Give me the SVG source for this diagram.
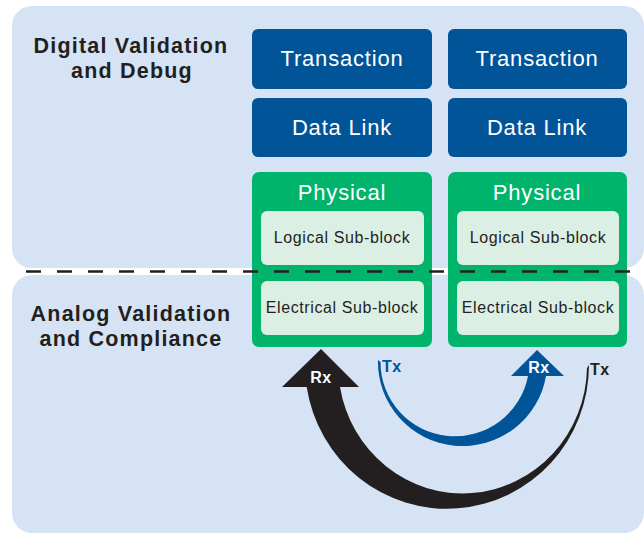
<svg xmlns="http://www.w3.org/2000/svg" width="644" height="533" viewBox="0 0 644 533">
<style>
.panel{fill:#d6e3f4}
.blue{fill:#025498}
.green{fill:#00b46c}
.sub{fill:#dcefe5}
.wt{font-family:"Liberation Sans",Arial,sans-serif;fill:#ffffff;font-size:22px;letter-spacing:0.8px;text-anchor:middle}
.st{font-family:"Liberation Sans",Arial,sans-serif;fill:#231f20;font-size:16px;letter-spacing:0.6px;text-anchor:middle}
.lbl{font-family:"Liberation Sans",Arial,sans-serif;fill:#231f20;font-size:21.5px;font-weight:bold;letter-spacing:1.2px;text-anchor:middle}
.rx{font-family:"Liberation Sans",Arial,sans-serif;font-weight:bold;font-size:16px;letter-spacing:0.5px}
</style>
<rect class="panel" x="12" y="6" width="632" height="262" rx="20"/>
<rect class="panel" x="12" y="275" width="632" height="258" rx="20"/>
<g id="label-digital">
<text class="lbl" x="131" y="53">Digital Validation</text>
<text class="lbl" x="132" y="78">and Debug</text>
</g>
<g id="label-analog">
<text class="lbl" x="131" y="321">Analog Validation</text>
<text class="lbl" x="131" y="346">and Compliance</text>
</g>
<g id="transaction-left"><rect class="blue" x="252" y="29" width="180" height="60" rx="6"/><text class="wt" x="342" y="66">Transaction</text></g>
<g id="transaction-right"><rect class="blue" x="448" y="29" width="179" height="60" rx="6"/><text class="wt" x="537" y="66">Transaction</text></g>
<g id="datalink-left"><rect class="blue" x="252" y="98" width="180" height="59" rx="6"/><text class="wt" x="342" y="135">Data Link</text></g>
<g id="datalink-right"><rect class="blue" x="448" y="98" width="179" height="59" rx="6"/><text class="wt" x="537" y="135">Data Link</text></g>
<g id="physical-left">
<rect class="green" x="252" y="172" width="180" height="175" rx="7"/>
<text class="wt" x="342" y="200">Physical</text>
<rect class="sub" x="261" y="211" width="163" height="54" rx="6"/>
<text class="st" x="342" y="243">Logical Sub-block</text>
<rect class="sub" x="261" y="281" width="163" height="54" rx="6"/>
<text class="st" x="342" y="313">Electrical Sub-block</text>
</g>
<g id="physical-right">
<rect class="green" x="448" y="172" width="179" height="175" rx="7"/>
<text class="wt" x="537" y="200">Physical</text>
<rect class="sub" x="457" y="211" width="162" height="54" rx="6"/>
<text class="st" x="538" y="243">Logical Sub-block</text>
<rect class="sub" x="457" y="281" width="162" height="54" rx="6"/>
<text class="st" x="538" y="313">Electrical Sub-block</text>
</g>
<line x1="26" y1="271.5" x2="644" y2="271.5" stroke="#231f20" stroke-width="2.5" stroke-dasharray="15 16"/>
<g id="connectors">
<g id="black-arrow" fill="#231f20">
<path d="M306.7,387 A142,144 0 0 0 589,365 L587,368 A124.4,128 0 0 1 340,387 Z"/>
<polygon points="321,349 359,387 282,387"/>
<text class="rx" x="321" y="383" fill="#ffffff" text-anchor="middle">Rx</text>
<text class="rx" x="590" y="375" fill="#231f20">Tx</text>
</g>
<g id="blue-arrow" fill="#025498">
<path d="M378,360 A84.6,84 0 0 0 546,376 L528,376 A74.4,74 0 0 1 380.5,362 Z"/>
<polygon points="537,350 564,376 511,376"/>
<text class="rx" x="539" y="373" fill="#ffffff" text-anchor="middle">Rx</text>
<text class="rx" x="382" y="372" fill="#025498">Tx</text>
</g>
</g>
</svg>
